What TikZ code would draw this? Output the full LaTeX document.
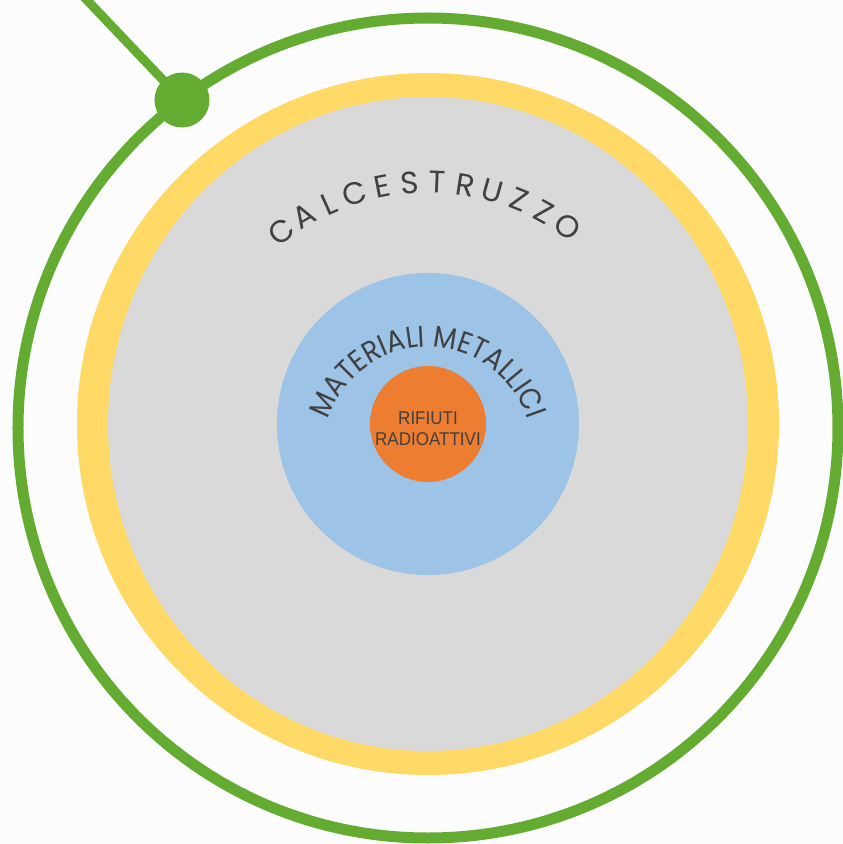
\documentclass[tikz,border=0pt]{standalone}
\usepackage{fontspec}
\newfontfamily\ringfont{Poppins}
\newfontfamily\metalfont[FakeStretch=0.9]{Poppins}
\newfontfamily\corefont[FakeStretch=0.92]{Liberation Sans}
\usetikzlibrary{decorations.text}

\begin{document}
\begin{tikzpicture}[x=1pt,y=1pt,line cap=round,line join=round]
  \definecolor{paper}{RGB}{252,252,252}
  \definecolor{leaf}{RGB}{99,172,49}
  \definecolor{sand}{RGB}{255,217,102}
  \definecolor{concrete}{RGB}{217,217,217}
  \definecolor{steel}{RGB}{157,195,230}
  \definecolor{core}{RGB}{237,125,49}
  \definecolor{ink}{RGB}{64,64,64}

  % page and background
  \useasboundingbox (-428,-420) rectangle (415,424);
  \clip (-428,-420) rectangle (415,424);
  \fill[paper] (-428,-420) rectangle (415,424);

  % outer green ring with marker
  \draw[leaf,line width=11] (0,-4) circle[radius=410];
  \coordinate (lead) at (-362,446);
  \node[circle,fill=leaf,inner sep=0,minimum size=55] (dot) at (-246,324) {};
  \draw[leaf,line width=9] (dot.center) -- (lead);

  % layers
  \fill[sand] (0,0) circle[radius=351];
  \fill[concrete] (0,0) ellipse (320 and 327);
  \fill[steel] (0,0) circle[radius=151];
  \fill[core] (0,0) circle[radius=58];

  % concrete label, spaced letters on an arc
  \foreach \ch [count=\i from 0] in {C,A,L,C,E,S,T,R,U,Z,Z,O}{
    \pgfmathsetmacro\ang{127.4-6.61*\i}
    \node[ink,anchor=base,inner sep=0,rotate=\ang-90,font=\ringfont\fontsize{31}{36}\selectfont]
      at (\ang:231) {\ch};
  }

  % metal label
  \path[shift={(0,-28)},decorate,decoration={text along path,text align=center,
      text color=ink,text={|\metalfont\fontsize{30}{36}\selectfont|MATERIALI METALLICI}}]
    (175:105) arc[start angle=175,end angle=5,radius=105];

  % core label
  \node[ink,align=center,inner sep=0,font=\corefont\fontsize{18.5}{21}\selectfont] (waste)
    at (0,-4.5) {RIFIUTI\\RADIOATTIVI};
\end{tikzpicture}
\end{document}
